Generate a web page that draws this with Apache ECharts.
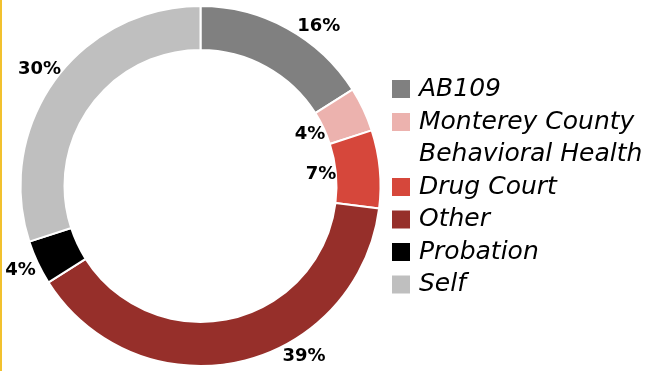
<!DOCTYPE html>
<html>
<head>
<meta charset="utf-8">
<script src="https://cdn.jsdelivr.net/npm/echarts@6/dist/echarts.min.js"></script>
<style>
  html, body { margin: 0; padding: 0; background: #fff; }
  #chart { width: 645px; height: 371px; }
</style>
</head>
<body>
<div id="chart"></div>
<script>
// Referral sources and their share of clients (percent)
const categories = ['AB109', 'Monterey County Behavioral Health', 'Drug Court', 'Other', 'Probation', 'Self'];
const shares = [16, 4, 7, 39, 4, 30];
const sliceColors = ['#808080', '#ECB2AE', '#D6473B', '#962F2A', '#000000', '#BFBFBF'];
// slices whose percentage sits in the hole of the ring
const innerLabelled = ['Monterey County Behavioral Health', 'Drug Court'];

const cx = 200.5, cy = 186;
const innerR = 136, outerR = 180;
const outerLabelR = 199, innerLabelR = 121;
const labelTop = 26, labelBottom = 356;

const total = shares.reduce((a, b) => a + b, 0);
const midAngles = [];
let acc = 0;
shares.forEach(v => { midAngles.push((acc + v / 2) / total * 2 * Math.PI); acc += v; });

const chart = echarts.init(document.getElementById('chart'), null, { renderer: 'canvas' });

const lineH = 32.5;
const legendText = {
  fontFamily: 'DejaVu Sans',
  fontStyle: 'italic',
  fontSize: 25,
  color: '#000',
  lineHeight: lineH,
  padding: [0, 0, 0, 3]
};

// the long name wraps onto two lines; a blank first line keeps its
// swatch level with the first line of text
const wrapName = name => name === 'Monterey County Behavioral Health'
  ? '\nMonterey County\nBehavioral Health' : name;

chart.setOption({
  animation: false,
  backgroundColor: '#fff',
  color: sliceColors,
  graphic: [{
    type: 'rect', left: 0, top: 0,
    shape: { width: 2, height: 371 },
    style: { fill: '#F2C12E' }
  }],
  legend: [{
    data: [categories[0]],
    orient: 'vertical', left: 390, top: 89 - lineH / 2, padding: 0,
    itemWidth: 20, itemHeight: 20, itemGap: 0,
    icon: 'rect', selectedMode: false,
    textStyle: legendText
  }, {
    data: categories.slice(1),
    orient: 'vertical', left: 390, top: 122 - lineH * 1.5, padding: 0,
    itemWidth: 20, itemHeight: 20, itemGap: 0,
    icon: 'rect', selectedMode: false,
    formatter: wrapName,
    textStyle: legendText
  }],
  series: [{
    type: 'pie',
    center: [cx, cy],
    radius: [innerR, outerR],
    startAngle: 90,
    clockwise: true,
    avoidLabelOverlap: false,
    itemStyle: { borderColor: '#fff', borderWidth: 2 },
    label: {
      show: true,
      formatter: p => p.value + '%',
      fontFamily: 'DejaVu Sans',
      fontWeight: 'bold',
      fontSize: 18,
      color: '#000'
    },
    labelLine: { show: false },
    labelLayout: params => {
      const i = params.dataIndex;
      const a = midAngles[i];
      const inner = innerLabelled.includes(categories[i]);
      const r = inner ? innerLabelR : outerLabelR;
      let x = cx + r * Math.sin(a);
      let y = cy - r * Math.cos(a);
      if (!inner && (y < labelTop || y > labelBottom)) {
        y = Math.min(labelBottom, Math.max(labelTop, y));
        const side = Math.sin(a) < 0 ? -1 : 1;
        x = cx + side * Math.sqrt(r * r - (y - cy) * (y - cy));
      }
      return { x, y, align: 'center', verticalAlign: 'middle' };
    },
    emphasis: { disabled: true },
    data: categories.map((name, i) => ({ name, value: shares[i] }))
  }]
});
</script>
</body>
</html>
